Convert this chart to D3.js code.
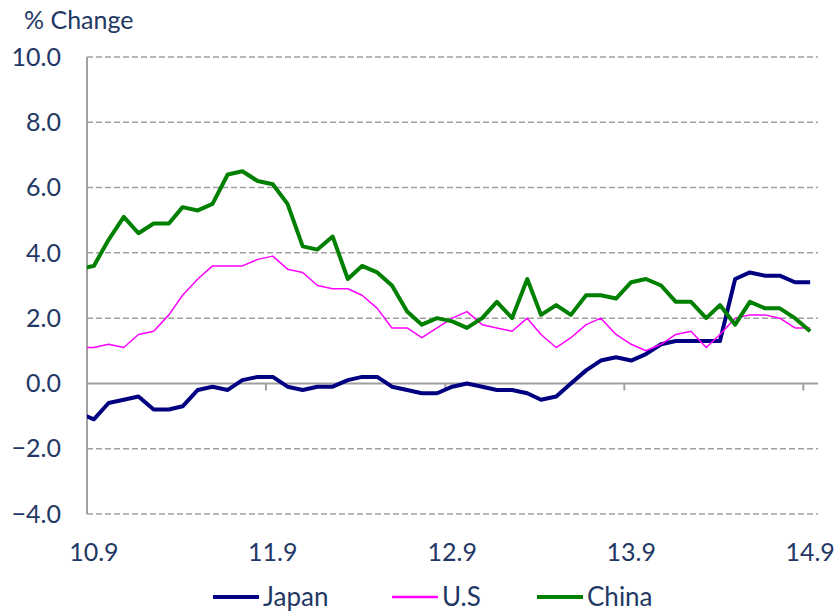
<!DOCTYPE html>
<html>
<head>
<meta charset="utf-8">
<script src="https://cdn.jsdelivr.net/npm/d3@7"></script>
<style>
  body { margin: 0; background: #fff; }
  svg { display: block; }
  text { font-family: Lato, "Open Sans", sans-serif; fill: #1F3864; }
</style>
</head>
<body>
<div id="chart"></div>
<script>
// monthly points, Aug 2010 .. Sep 2014 (plotted mid-month)
const startMonth = new Date(2010, 7, 1);
const endMonth = new Date(2014, 9, 1);

const japan = [-0.9, -1.1, -0.6, -0.5, -0.4, -0.8, -0.8, -0.7, -0.2, -0.1,
               -0.2, 0.1, 0.2, 0.2, -0.1, -0.2, -0.1, -0.1, 0.1, 0.2,
               0.2, -0.1, -0.2, -0.3, -0.3, -0.1, 0.0, -0.1, -0.2, -0.2,
               -0.3, -0.5, -0.4, 0.0, 0.4, 0.7, 0.8, 0.7, 0.9, 1.2,
               1.3, 1.3, 1.3, 1.3, 3.2, 3.4, 3.3, 3.3, 3.1, 3.1];
const us = [1.1, 1.1, 1.2, 1.1, 1.5, 1.6, 2.1, 2.7, 3.2, 3.6,
            3.6, 3.6, 3.8, 3.9, 3.5, 3.4, 3.0, 2.9, 2.9, 2.7,
            2.3, 1.7, 1.7, 1.4, 1.7, 2.0, 2.2, 1.8, 1.7, 1.6,
            2.0, 1.5, 1.1, 1.4, 1.8, 2.0, 1.5, 1.2, 1.0, 1.2,
            1.5, 1.6, 1.1, 1.5, 2.0, 2.1, 2.1, 2.0, 1.7, 1.7];
const china = [3.5, 3.6, 4.4, 5.1, 4.6, 4.9, 4.9, 5.4, 5.3, 5.5,
               6.4, 6.5, 6.2, 6.1, 5.5, 4.2, 4.1, 4.5, 3.2, 3.6,
               3.4, 3.0, 2.2, 1.8, 2.0, 1.9, 1.7, 2.0, 2.5, 2.0,
               3.2, 2.1, 2.4, 2.1, 2.7, 2.7, 2.6, 3.1, 3.2, 3.0,
               2.5, 2.5, 2.0, 2.4, 1.8, 2.5, 2.3, 2.3, 2.0, 1.6];

const seriesNames = ["Japan", "U.S", "China"];
const seriesColors = ["#000080", "#FF00FF", "#008000"];
const seriesWidths = [4, 1.5, 4];

const yTicks = [-4, -2, 0, 2, 4, 6, 8, 10];
const xTickYears = [2010, 2011, 2012, 2013, 2014];
const xTickLabels = ["10.9", "11.9", "12.9", "13.9", "14.9"];

const width = 838, height = 611;
const margin = {top: 57, right: 20, bottom: 97, left: 87};
const fontSize = 25;

const svg = d3.select("#chart").append("svg")
    .attr("width", width)
    .attr("height", height);

const months = d3.timeMonth.range(startMonth, endMonth).map(d => new Date(d.getFullYear(), d.getMonth(), 15));

const x = d3.scaleTime()
    .domain([new Date(2010, 8, 1), new Date(2014, 9, 1)])
    .range([margin.left, width - margin.right]);
const y = d3.scaleLinear()
    .domain([-4, 10])
    .range([height - margin.bottom, margin.top]);

// dashed grid
svg.append("g")
  .selectAll("line")
  .data(yTicks.filter(d => d !== 0))
  .enter().append("line")
    .attr("x1", margin.left).attr("x2", width - margin.right)
    .attr("y1", d => y(d)).attr("y2", d => y(d))
    .attr("stroke", "#A0A0A0")
    .attr("stroke-width", 1.5)
    .attr("stroke-dasharray", "6,3");

// y axis
svg.append("line")
    .attr("x1", margin.left).attr("x2", margin.left)
    .attr("y1", y(10)).attr("y2", y(-4))
    .attr("stroke", "#A0A0A0").attr("stroke-width", 2);

svg.append("g")
  .selectAll("text")
  .data(yTicks)
  .enter().append("text")
    .attr("x", 61)
    .attr("y", d => y(d))
    .attr("dy", "0.35em")
    .attr("text-anchor", "end")
    .attr("font-size", fontSize)
    .text(d => d3.format(".1f")(d));

// x axis on zero line
const tickDates = xTickYears.map(yr => new Date(yr, 8, 1));
svg.append("line")
    .attr("x1", margin.left).attr("x2", width - margin.right)
    .attr("y1", y(0)).attr("y2", y(0))
    .attr("stroke", "#A0A0A0").attr("stroke-width", 2);
svg.append("g")
  .selectAll("line")
  .data(tickDates)
  .enter().append("line")
    .attr("x1", d => x(d)).attr("x2", d => x(d))
    .attr("y1", y(0)).attr("y2", y(0) + 7)
    .attr("stroke", "#A0A0A0").attr("stroke-width", 2);

svg.append("g")
  .selectAll("text")
  .data(xTickYears)
  .enter().append("text")
    .attr("x", d => x(new Date(d, 8, 15)))
    .attr("y", 561)
    .attr("text-anchor", "middle")
    .attr("font-size", fontSize)
    .text((d, i) => xTickLabels[i]);

svg.append("text")
    .attr("x", 24)
    .attr("y", 29)
    .attr("font-size", fontSize)
    .text("% Change");

// lines
svg.append("clipPath").attr("id", "plot")
  .append("rect")
    .attr("x", margin.left).attr("y", 0)
    .attr("width", width - margin.right - margin.left)
    .attr("height", height);

const line = d3.line()
    .x((d, i) => x(months[i]))
    .y(d => y(d));

const allSeries = [japan, us, china];
svg.append("g")
    .attr("clip-path", "url(#plot)")
  .selectAll("path")
  .data(allSeries)
  .enter().append("path")
    .attr("d", line)
    .attr("fill", "none")
    .attr("stroke", (d, i) => seriesColors[i])
    .attr("stroke-width", (d, i) => seriesWidths[i])
    .attr("stroke-linejoin", "round");

// legend
const legendX = [213, 392, 537];
const legend = svg.append("g")
  .selectAll("g")
  .data(seriesNames)
  .enter().append("g")
    .attr("transform", (d, i) => "translate(" + legendX[i] + ",597)");
legend.append("line")
    .attr("x1", 0).attr("x2", 46)
    .attr("stroke", (d, i) => seriesColors[i])
    .attr("stroke-width", (d, i) => seriesWidths[i] === 4 ? 4 : 2.5);
legend.append("text")
    .attr("x", 50)
    .attr("dy", "0.35em")
    .attr("font-size", 26)
    .text(d => d);
</script>
</body>
</html>
